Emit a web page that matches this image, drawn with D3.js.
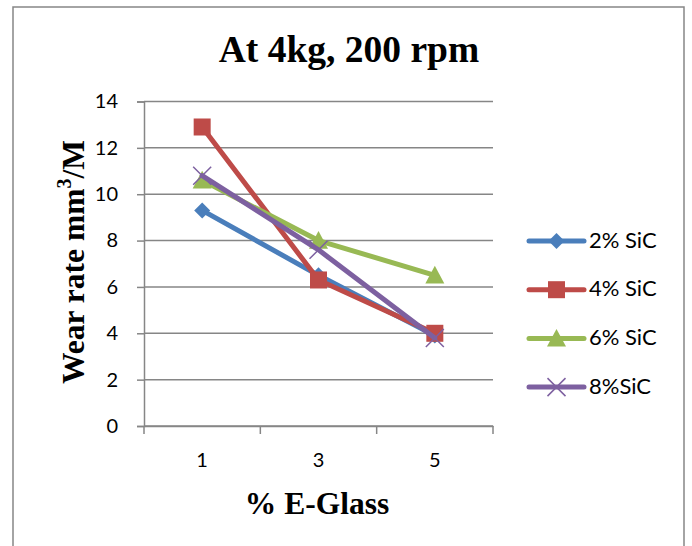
<!DOCTYPE html>
<html>
<head>
  <meta charset="utf-8" />
  <script src="https://d3js.org/d3.v7.min.js"></script>
  <style>
    body { margin: 0; padding: 0; background-color: #ffffff; }
    .tick-label { font-family: Lato, "Open Sans", sans-serif; font-size: 20px; fill: #000; }
    .legend-label { font-family: Lato, "Open Sans", sans-serif; font-size: 22px; fill: #000; }
    .serif-title { font-family: "Liberation Serif", "DejaVu Serif", serif; font-weight: bold; fill: #000; }
  </style>
</head>
<body>
  <svg id="chart" width="692" height="546"></svg>
  <script>
    // categories and series values
    const categories = ["1", "3", "5"];
    const seriesNames = ["2% SiC", "4% SiC", "6% SiC", "8%SiC"];
    const sic2 = [9.3, 6.5, 3.9];
    const sic4 = [12.9, 6.3, 4.0];
    const sic6 = [10.6, 8.0, 6.5];
    const sic8 = [10.8, 7.6, 3.8];
    const yTicks = [0, 2, 4, 6, 8, 10, 12, 14];

    const seriesValues = [sic2, sic4, sic6, sic8];
    const colors = ["#4a7ebb", "#be4b48", "#98b954", "#7d60a0"];
    const shapes = ["diamond", "square", "triangle", "cross"];

    const svg = d3.select("#chart");

    // outer border
    svg.append("rect")
      .attr("x", 13).attr("y", 7)
      .attr("width", 671).attr("height", 545)
      .attr("fill", "none").attr("stroke", "#868686").attr("stroke-width", 1.5);

    const plot = { left: 144, right: 493, top: 101.5, bottom: 426 };

    const x = d3.scaleBand().domain(categories).range([plot.left, plot.right]);
    const y = d3.scaleLinear().domain([0, 14]).range([plot.bottom, plot.top]);

    // gridlines
    svg.append("g").selectAll("line")
      .data(yTicks)
      .enter().append("line")
      .attr("x1", plot.left).attr("x2", plot.right)
      .attr("y1", d => y(d)).attr("y2", d => y(d))
      .attr("stroke", "#868686").attr("stroke-width", 1.5);

    // y axis
    const yAxis = svg.append("g")
      .attr("transform", `translate(${plot.left},0)`)
      .call(d3.axisLeft(y).tickValues(yTicks).tickSize(7).tickPadding(19));
    yAxis.select(".domain").attr("stroke", "#868686").attr("stroke-width", 1.5);
    yAxis.selectAll(".tick line").attr("stroke", "#868686").attr("stroke-width", 1.5);
    yAxis.selectAll(".tick text").attr("class", "tick-label").attr("font-family", null).attr("font-size", null);

    // x axis
    const xAxis = svg.append("g")
      .attr("transform", `translate(0,${plot.bottom})`)
      .call(d3.axisBottom(x).tickSize(0).tickPadding(27));
    xAxis.select(".domain").attr("stroke", "#868686").attr("stroke-width", 1.5);
    xAxis.selectAll(".tick text").attr("class", "tick-label").attr("font-family", null).attr("font-size", null);
    // band boundary ticks
    const bounds = categories.map(c => x(c)).concat([plot.right]);
    xAxis.append("g").selectAll("line")
      .data(bounds)
      .enter().append("line")
      .attr("x1", d => d).attr("x2", d => d)
      .attr("y1", 0).attr("y2", 8)
      .attr("stroke", "#868686").attr("stroke-width", 1.5);

    const cx = c => x(c) + x.bandwidth() / 2;

    function drawMarker(g, shape, color, px, py, s) {
      if (shape === "diamond") {
        g.append("path")
          .attr("d", `M${px},${py - s}L${px + s},${py}L${px},${py + s}L${px - s},${py}Z`)
          .attr("fill", color);
      } else if (shape === "square") {
        g.append("rect")
          .attr("x", px - s).attr("y", py - s)
          .attr("width", 2 * s).attr("height", 2 * s)
          .attr("fill", color);
      } else if (shape === "triangle") {
        g.append("path")
          .attr("d", `M${px},${py - s}L${px + s},${py + s * 0.85}L${px - s},${py + s * 0.85}Z`)
          .attr("fill", color);
      } else {
        g.append("path")
          .attr("d", `M${px - s},${py - s}L${px + s},${py + s}M${px - s},${py + s}L${px + s},${py - s}`)
          .attr("stroke", color).attr("stroke-width", 1.5).attr("fill", "none");
      }
    }

    const markerSize = { diamond: 8, square: 8.5, triangle: 9.5, cross: 9 };

    const line = d3.line().x(d => cx(d.cat)).y(d => y(d.v));

    seriesValues.forEach((vals, i) => {
      const pts = vals.map((v, j) => ({ cat: categories[j], v }));
      const g = svg.append("g");
      g.append("path")
        .datum(pts)
        .attr("d", line)
        .attr("fill", "none")
        .attr("stroke", colors[i])
        .attr("stroke-width", 5)
        .attr("stroke-linejoin", "round")
        .attr("stroke-linecap", "round");
      pts.forEach(p => drawMarker(g, shapes[i], colors[i], cx(p.cat), y(p.v), markerSize[shapes[i]]));
    });

    // legend
    const legend = svg.append("g");
    seriesNames.forEach((name, i) => {
      const ly = 241 + i * 48.7;
      const g = legend.append("g");
      g.append("line")
        .attr("x1", 529).attr("x2", 584)
        .attr("y1", ly).attr("y2", ly)
        .attr("stroke", colors[i]).attr("stroke-width", 5)
        .attr("stroke-linecap", "round");
      drawMarker(g, shapes[i], colors[i], 556.5, ly, markerSize[shapes[i]]);
      g.append("text")
        .attr("class", "legend-label")
        .attr("x", 589).attr("y", ly)
        .attr("dy", "0.3em")
        .text(name);
    });

    // titles
    svg.append("text")
      .attr("class", "serif-title")
      .attr("x", 349).attr("y", 62)
      .attr("text-anchor", "middle")
      .attr("font-size", 37.5)
      .text("At 4kg, 200 rpm");

    svg.append("text")
      .attr("class", "serif-title")
      .attr("x", 317).attr("y", 514)
      .attr("text-anchor", "middle")
      .attr("font-size", 31.5)
      .text("% E-Glass");

    const yt = svg.append("text")
      .attr("class", "serif-title")
      .attr("transform", "translate(84,262) rotate(-90)")
      .attr("text-anchor", "middle")
      .attr("font-size", 31.5);
    yt.append("tspan").text("Wear rate mm");
    yt.append("tspan").attr("font-size", 20).attr("dy", -13).text("3");
    yt.append("tspan").attr("dy", 13).text("/M");
  </script>
</body>
</html>
